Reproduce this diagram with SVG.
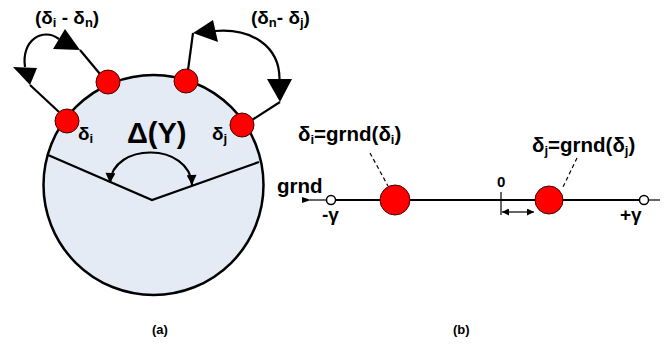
<svg xmlns="http://www.w3.org/2000/svg" width="668" height="345" viewBox="0 0 668 345">
<defs>
<style>
text{font-family:"Liberation Sans",Arial,sans-serif;font-weight:bold;fill:#000}
.t17{font-size:19px}
.t19{font-size:20.5px}
.sub{font-size:13px}
.ln{stroke:#000;stroke-width:2.2;fill:none}
.thin{stroke:#000;stroke-width:1.2;fill:none}
.dash{stroke:#000;stroke-width:1.2;fill:none;stroke-dasharray:4 3}
.dot{fill:#f00;stroke:#400;stroke-width:1}
.head{fill:#000}
.ring{fill:#fff;stroke:#000;stroke-width:1.5}
</style>
<marker id="ah" viewBox="0 0 10 10" refX="10" refY="5" markerWidth="13" markerHeight="10" markerUnits="userSpaceOnUse" orient="auto-start-reverse"><path d="M0,0 L10,5 L0,10 z" fill="#000"/></marker>
<marker id="sa" viewBox="0 0 10 10" refX="10" refY="5" markerWidth="8" markerHeight="7" markerUnits="userSpaceOnUse" orient="auto-start-reverse"><path d="M0,0 L10,5 L0,10 z" fill="#000"/></marker>
</defs>
<g id="disc">
<circle cx="153.5" cy="185" r="110" fill="#e4ebf5" stroke="#000" stroke-width="2.5"/>
</g>
<g id="connectors">
<polyline class="ln" points="48,155 152,200 259,162"/>
<path class="ln" d="M 110 183 C 112 142, 190 142, 192 185" marker-start="url(#ah)" marker-end="url(#ah)"/>
<line class="ln" x1="80" y1="50" x2="100" y2="74"/>
<line class="ln" x1="30" y1="85" x2="59" y2="112"/>
<path class="ln" d="M 25 67 C 21 40, 43 27, 59 39"/>
<polygon class="head" points="65,29 53,49 80,50"/>
<polygon class="head" points="13,67 37,68 30,85"/>
<line class="ln" x1="193" y1="33" x2="188" y2="70"/>
<line class="ln" x1="280" y1="102" x2="252" y2="120"/>
<path class="ln" d="M 215 31 C 250 28, 280 45, 279.5 80"/>
<polygon class="head" points="213,20 193,33 218,42"/>
<polygon class="head" points="267,79 292,79 280,102"/>
<line class="ln" x1="335" y1="200" x2="639" y2="200"/>
<line class="thin" x1="310" y1="200" x2="326" y2="200"/>
<line class="thin" x1="648" y1="200" x2="660" y2="200"/>
<line class="dash" x1="370" y1="153" x2="388" y2="186"/>
<line class="dash" x1="577" y1="158" x2="563" y2="187"/>
<line class="thin" x1="501" y1="192" x2="501" y2="215"/>
<line class="thin" x1="502" y1="212" x2="534" y2="212" marker-start="url(#sa)" marker-end="url(#sa)"/>
<polygon class="head" points="302,197 311,200 302,203"/>
</g>
<g id="node-a1"><circle class="dot" cx="108" cy="82" r="12"/></g>
<g id="node-a2"><circle class="dot" cx="186" cy="81" r="12"/></g>
<g id="node-di"><circle class="dot" cx="67" cy="121" r="12"/></g>
<g id="node-dj"><circle class="dot" cx="242" cy="125" r="12"/></g>
<g id="node-b1"><circle class="dot" cx="395" cy="200" r="15"/></g>
<g id="node-b2"><circle class="dot" cx="549" cy="200" r="14"/></g>
<g id="ring-left"><circle class="ring" cx="331" cy="200" r="4.5"/></g>
<g id="ring-right"><circle class="ring" cx="644" cy="200" r="4.5"/></g>
<g id="labels">
<text class="t17" x="35" y="24">(δ<tspan class="sub" dy="3">i</tspan><tspan dy="-3"> - δ</tspan><tspan class="sub" dy="3">n</tspan><tspan dy="-3">)</tspan></text>
<text class="t17" x="251" y="24">(δ<tspan class="sub" dy="3">n</tspan><tspan dy="-3">- δ</tspan><tspan class="sub" dy="3">j</tspan><tspan dy="-3">)</tspan></text>
<text class="t17" x="78" y="140">δ<tspan class="sub" dy="3">i</tspan></text>
<text class="t17" x="212" y="140">δ<tspan class="sub" dy="3">j</tspan></text>
<text x="127" y="143" style="font-size:29px">Δ(Υ)</text>
<text class="t19" x="298" y="141">δ<tspan class="sub" dy="3">i</tspan><tspan dy="-3">=grnd(δ</tspan><tspan class="sub" dy="3">i</tspan><tspan dy="-3">)</tspan></text>
<text class="t19" x="532" y="152">δ<tspan class="sub" dy="3">j</tspan><tspan dy="-3">=grnd(δ</tspan><tspan class="sub" dy="3">j</tspan><tspan dy="-3">)</tspan></text>
<text class="t19" x="277" y="193">grnd</text>
<text style="font-size:15px" x="497" y="187">0</text>
<text class="t17" x="322" y="221">-γ</text>
<text class="t17" x="620" y="221">+γ</text>
<text style="font-size:13px" x="152" y="334">(a)</text>
<text style="font-size:13px" x="453" y="334">(b)</text>
</g>
</svg>
